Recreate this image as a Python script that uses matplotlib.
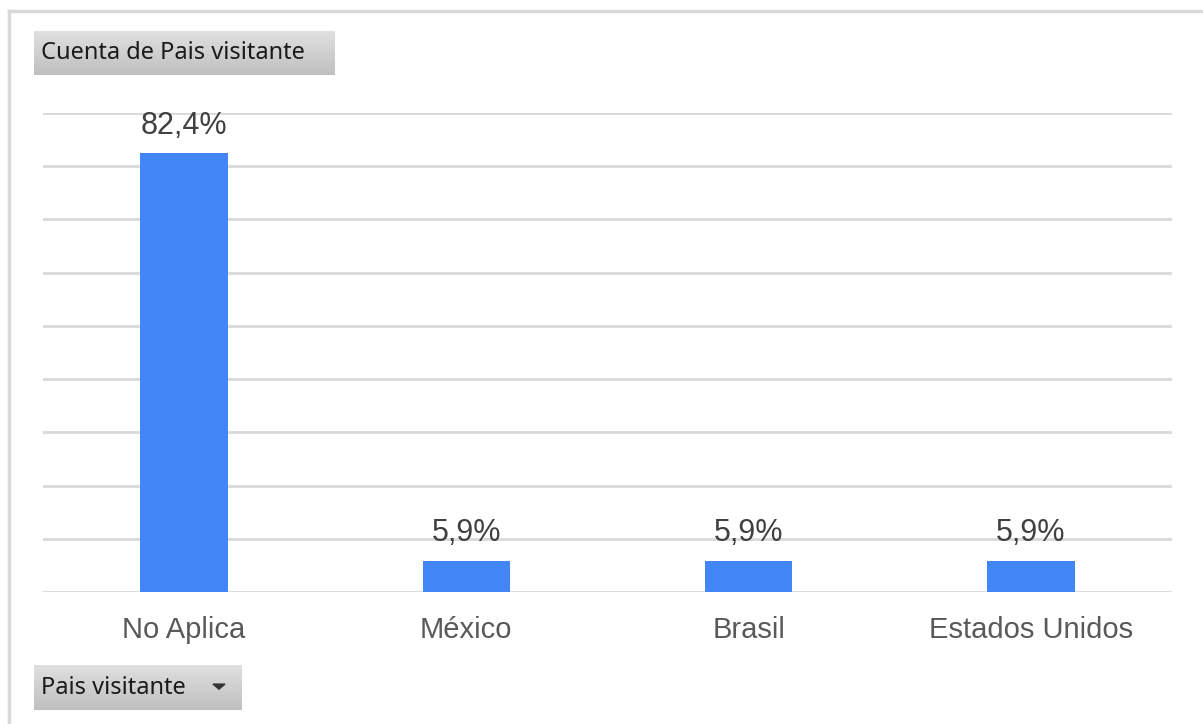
import matplotlib
matplotlib.use("Agg")
import matplotlib.pyplot as plt
import numpy as np
from matplotlib.lines import Line2D

categories = ["No Aplica", "México", "Brasil", "Estados Unidos"]
values = [82.4, 5.9, 5.9, 5.9]
value_labels = ["82,4%", "5,9%", "5,9%", "5,9%"]
title_button = "Cuenta de Pais visitante"
axis_button = "Pais visitante"

W, H = 1203, 724
fig = plt.figure(figsize=(W / 100, H / 100), dpi=100)
fig.patch.set_facecolor("white")

def fx(px):
    return px / W

def fy(py):
    return 1 - py / H

# outer border (top and left)
fig.add_artist(Line2D([fx(9), fx(W)], [fy(11), fy(11)], color="#d9d9d9", lw=2.5))
fig.add_artist(Line2D([fx(9), fx(9)], [fy(11), fy(H)], color="#d9d9d9", lw=2.5))

ax = fig.add_axes([fx(43), fy(592), fx(1172) - fx(43), fy(113) - fy(592)])
x = np.arange(len(categories))
ax.bar(x, values, width=0.31, color="#4285f4", zorder=3)
ax.set_xlim(-0.5, len(categories) - 0.5)
ax.set_ylim(0, 90)
ax.set_yticks(np.arange(0, 91, 10))
ax.yaxis.grid(True, color="#d9d9d9", lw=2, zorder=0)
ax.tick_params(axis="y", left=False, labelleft=False)
ax.tick_params(axis="x", bottom=False, labelsize=21, labelcolor="#595959", pad=13.5)
ax.set_xticks(x)
ax.set_xticklabels(categories, family="Liberation Sans")
for s in ax.spines.values():
    s.set_visible(False)
for xi, v, lab in zip(x, values, value_labels):
    ax.annotate(lab, (xi, v), xytext=(0, 14), textcoords="offset points",
                ha="center", va="baseline", fontsize=22, color="#404040",
                family="Liberation Sans")

def button(x0, y0, x1, y1, text, arrow=False):
    bax = fig.add_axes([fx(x0), fy(y1), fx(x1) - fx(x0), fy(y0) - fy(y1)])
    grad = np.linspace(0, 1, 64).reshape(-1, 1)
    top = np.array([0.88, 0.88, 0.88])
    bot = np.array([0.75, 0.75, 0.75])
    img = top[None, None, :] * (1 - grad[:, :, None]) + bot[None, None, :] * grad[:, :, None]
    bax.imshow(img, aspect="auto", extent=[0, 1, 0, 1], origin="upper")
    bax.set_xlim(0, 1)
    bax.set_ylim(0, 1)
    bax.axis("off")
    bax.text(7 / (x1 - x0), 0.5, text, ha="left", va="center", fontsize=17,
             color="#1a1a1a", family="Noto Sans")
    if arrow:
        cx = (219 - x0) / (x1 - x0)
        w = 6 / (x1 - x0)
        h = 5 / (y1 - y0)
        bax.fill([cx - w, cx + w, cx], [0.5 + h / 2 + 0.02, 0.5 + h / 2 + 0.02, 0.5 - h / 2 + 0.02],
                 color="#333333")

button(34, 31, 335, 75, title_button)
button(34, 665, 242, 710, axis_button, arrow=True)

fig.savefig("out.png", dpi=100, facecolor="white")
